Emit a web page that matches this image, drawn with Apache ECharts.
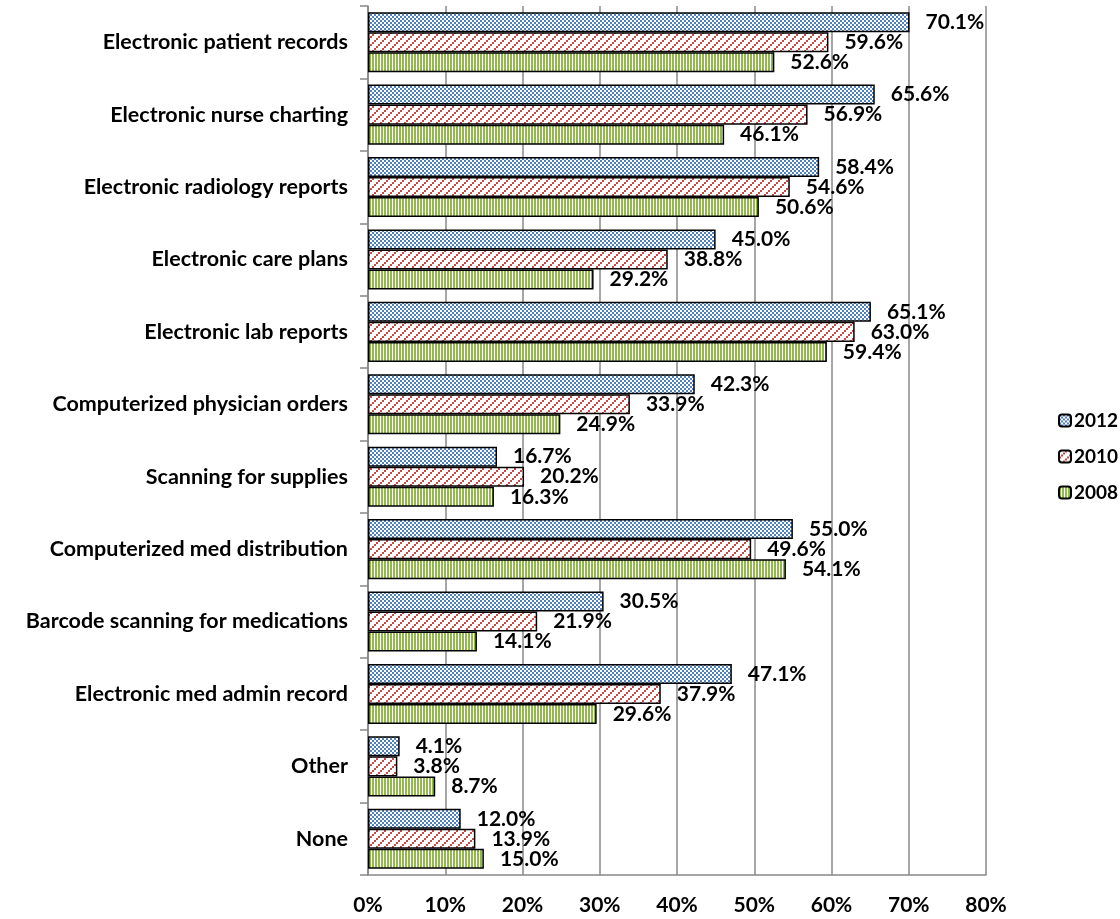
<!DOCTYPE html>
<html><head><meta charset="utf-8">
<script src="https://cdn.jsdelivr.net/npm/echarts@6/dist/echarts.min.js"></script>
<style>html,body{margin:0;padding:0;background:#fff}#c{width:1120px;height:919px}</style>
</head><body><div id="c"></div>
<script>
const categories = ["Electronic patient records","Electronic nurse charting","Electronic radiology reports","Electronic care plans","Electronic lab reports","Computerized physician orders","Scanning for supplies","Computerized med distribution","Barcode scanning for medications","Electronic med admin record","Other","None"];
const v2012 = [70.1,65.6,58.4,45.0,65.1,42.3,16.7,55.0,30.5,47.1,4.1,12.0];
const v2010 = [59.6,56.9,54.6,38.8,63.0,33.9,20.2,49.6,21.9,37.9,3.8,13.9];
const v2008 = [52.6,46.1,50.6,29.2,59.4,24.9,16.3,54.1,14.1,29.6,8.7,15.0];
const seriesNames = ["2012","2010","2008"];

function pat(kind){
  const c=document.createElement('canvas');
  const ctx=c.getContext('2d');
  if(kind==='check'){
    c.width=4;c.height=4;ctx.fillStyle='#fff';ctx.fillRect(0,0,4,4);
    ctx.fillStyle='#4f81bd';ctx.fillRect(0,0,2,2);ctx.fillRect(2,2,2,2);
  } else if(kind==='diag'){
    c.width=8;c.height=8;ctx.fillStyle='#fff';ctx.fillRect(0,0,8,8);
    ctx.fillStyle='#c84a47';
    for(let i=0;i<4;i++){ctx.fillRect(6-2*i,2*i,2,2);}
  } else {
    c.width=3;c.height=3;ctx.fillStyle='#fff';ctx.fillRect(0,0,3,3);
    ctx.fillStyle='#92b84e';ctx.fillRect(0,0,2,3);
  }
  return {image:c,repeat:'repeat'};
}
const pats=[pat('check'),pat('diag'),pat('vert')];
const font='Lato, "Open Sans", sans-serif';
const data=[v2012,v2010,v2008];
const chart=echarts.init(document.getElementById('c'));
chart.setOption({
  animation:false,
  textStyle:{fontFamily:font},
  grid:{left:368,right:134,top:6,bottom:44,containLabel:false},
  legend:{
    orient:'vertical',left:1053,top:406,itemWidth:12,itemHeight:12,itemGap:17,
    textStyle:{fontFamily:font,fontWeight:'bold',fontSize:19,color:'#000',padding:[0,0,0,-2]},
    data:seriesNames
  },
  xAxis:{type:'value',min:0,max:80,interval:10,
    axisLine:{show:true,lineStyle:{color:'#888',width:1.5}},
    axisTick:{show:false},
    splitLine:{show:true,lineStyle:{color:'#888',width:1.5}},
    axisLabel:{formatter:v=>v+'%',fontFamily:font,fontWeight:'bold',fontSize:21,color:'#000',margin:20}
  },
  yAxis:{type:'category',inverse:true,data:categories,
    axisLine:{show:true,lineStyle:{color:'#888',width:1.5}},
    axisTick:{show:true,length:8,lineStyle:{color:'#888',width:1.5}},
    axisLabel:{fontFamily:font,fontWeight:'bold',fontSize:21.5,color:'#000',margin:20}
  },
  series:seriesNames.map((n,i)=>({
    name:n,type:'bar',data:data[i],barGap:'0%',barCategoryGap:'17%',
    itemStyle:{color:pats[i],borderColor:'#000',borderWidth:1.5},
    label:{show:true,position:'right',distance:16,formatter:p=>p.value.toFixed(1)+'%',
      fontFamily:font,fontWeight:'bold',fontSize:21,color:'#000'}
  }))
});
</script></body></html>
